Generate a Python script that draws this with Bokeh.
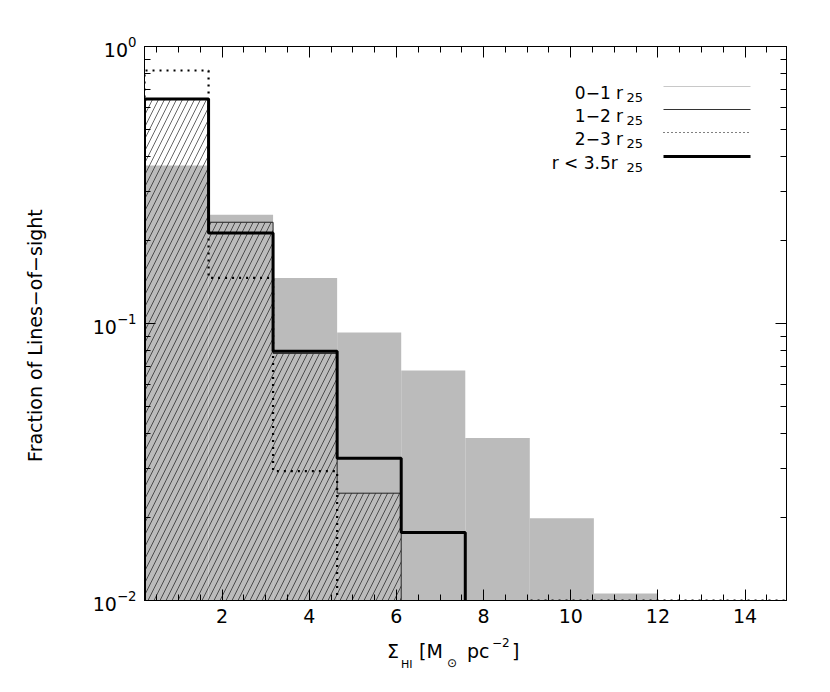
import numpy as np
from bokeh.plotting import figure
from bokeh.layouts import column
from bokeh.models import (Range1d, LinearAxis, LogAxis, SingleIntervalTicker, FixedTicker,
                          LogTickFormatter, Label, Arrow, CustomJSTickFormatter, Div)
from bokeh.embed import file_html
from bokeh.resources import INLINE

# ---- data ----
bin_edges = [0.22, 1.69, 3.17, 4.64, 6.11, 7.58, 9.06, 10.53, 12.00, 13.48, 14.95]
frac_r0_1 = [0.372, 0.247, 0.146, 0.0928, 0.0676, 0.0386, 0.0198, 0.0106, 0.0, 0.0]
frac_r1_2 = [0.645, 0.232, 0.078, 0.0244, 0.0, 0.0, 0.0, 0.0, 0.0, 0.0]
frac_r2_3 = [0.819, 0.146, 0.0293, 0.0, 0.0, 0.0, 0.0100, 0.0100, 0.0100, 0.0100]
frac_all = [0.647, 0.212, 0.0794, 0.0326, 0.0176, 0.0, 0.0, 0.0, 0.0, 0.0]

x_tick_interval = 2
y_major_ticks = [0.01, 0.1, 1.0]
y_minor_ticks = [m * d for d in (0.01, 0.1) for m in range(2, 10)]
legend_labels = ["0\u22121  r", "1\u22122  r", "2\u22123  r", "r  <  3.5r"]
y_title = "Fraction of Lines\u2212of\u2212sight"

FONT = "DejaVu Sans"
FLOOR = 1e-4

p = figure(width=830, height=636, x_range=Range1d(bin_edges[0], bin_edges[-1]),
           y_range=Range1d(0.01, 1.0), y_axis_type="log",
           output_backend="svg", toolbar_location=None,
           min_border_left=144, min_border_right=44, min_border_top=46, min_border_bottom=36)
p.grid.visible = False
p.outline_line_color = "black"
p.background_fill_color = "white"
p.border_fill_color = "white"

left = np.array(bin_edges[:-1])
right = np.array(bin_edges[1:])


def positive(vals):
    v = np.array(vals)
    m = v > 0
    return left[m], right[m], v[m]


def step_path(vals):
    xs = [bin_edges[0]]
    ys = [FLOOR]
    for i, v in enumerate(vals):
        vv = v if v > 0 else FLOOR
        xs += [bin_edges[i], bin_edges[i + 1]]
        ys += [vv, vv]
    xs.append(bin_edges[-1])
    ys.append(FLOOR)
    return xs, ys


# 0-1 r25 : grey filled histogram
l, r, t = positive(frac_r0_1)
p.quad(left=l, right=r, top=t, bottom=FLOOR, fill_color="#bbbbbb", line_color=None)

# 1-2 r25 : hatched histogram with thin outline
l, r, t = positive(frac_r1_2)
p.quad(left=l, right=r, top=t, bottom=FLOOR, fill_alpha=0, line_color=None,
       hatch_pattern="/", hatch_color="black", hatch_weight=0.6, hatch_scale=12)
xs, ys = step_path(frac_r1_2)
p.line(xs, ys, line_color="#222222", line_width=1)

# 2-3 r25 : dotted
xs, ys = step_path(frac_r2_3)
p.line(xs, ys, line_color="black", line_width=2.2, line_dash="2 5")

# all : thick
xs, ys = step_path(frac_all)
p.line(xs, ys, line_color="black", line_width=3)

# ---- axes ----
blank = CustomJSTickFormatter(code="return ''")
bottom_axis = p.below[0]
left_axis = p.left[0]
bottom_axis.ticker = SingleIntervalTicker(interval=x_tick_interval, num_minor_ticks=4)
left_axis.ticker = FixedTicker(ticks=y_major_ticks, minor_ticks=y_minor_ticks)
left_axis.formatter = LogTickFormatter()
top_axis = LinearAxis(ticker=SingleIntervalTicker(interval=x_tick_interval, num_minor_ticks=4),
                      formatter=blank)
right_axis = LogAxis(ticker=FixedTicker(ticks=y_major_ticks, minor_ticks=y_minor_ticks),
                     formatter=blank)
p.add_layout(top_axis, "above")
p.add_layout(right_axis, "right")

for ax in [bottom_axis, left_axis, top_axis, right_axis]:
    ax.major_tick_in = 11
    ax.major_tick_out = 0
    ax.minor_tick_in = 6
    ax.minor_tick_out = 0
    ax.axis_line_color = "black"
    ax.major_tick_line_color = "black"
    ax.minor_tick_line_color = "black"
    ax.major_label_text_font = FONT
    ax.major_label_text_font_style = "normal"
    ax.major_label_text_color = "black"
for ax in [top_axis, right_axis]:
    ax.major_label_text_font_size = "0px"
    ax.major_label_standoff = 0

bottom_axis.major_label_text_font_size = "19px"
bottom_axis.major_label_standoff = 8
left_axis.major_label_text_font_size = "19px"
left_axis.major_label_standoff = 8
left_axis.axis_label = y_title + "\u00a0" * 4
left_axis.axis_label_text_font = FONT
left_axis.axis_label_text_font_size = "19px"
left_axis.axis_label_text_font_style = "normal"
left_axis.axis_label_text_color = "black"
left_axis.axis_label_standoff = 44


# ---- legend ----
def lab(x, y, text, size, align="left"):
    p.add_layout(Label(x=x, y=y, x_units="screen", y_units="screen", text=text,
                       text_font=FONT, text_font_size=size, text_align=align,
                       text_baseline="alphabetic", text_color="black"))


row_y = [514, 491, 468, 444]
styles = [dict(line_color="#c8c8c8", line_width=1),
          dict(line_color="#333333", line_width=1),
          dict(line_color="black", line_width=1, line_dash="1 3"),
          dict(line_color="black", line_width=3)]
for txt, yy, st in zip(legend_labels, row_y, styles):
    lab(484, yy - 6, txt, "17px", align="right")
    lab(482, yy - 11, "25", "13px")
    p.add_layout(Arrow(end=None, x_start=519, y_start=yy, x_end=606, y_end=yy,
                       start_units="screen", end_units="screen", **st))


# ---- x title (HTML text under the plot) ----
def piece(left_px, top_px, text, size):
    return (f'<span style="position:absolute; left:{left_px}px; top:{top_px}px; '
            f'font-family:\'{FONT}\'; font-size:{size}px; line-height:1; white-space:pre; '
            f'color:black;">{text}</span>')


x_title_html = ('<div style="position:relative; width:830px; height:50px;">'
                + piece(387, 5.9, "\u03a3", 19)
                + piece(401, 22.7, "HI", 11)
                + piece(419, 5.9, "[M", 19)
                + piece(447, 20.8, "\u2299", 12)
                + piece(467, 5.9, "pc", 19)
                + piece(492, 0.8, "\u22122", 12)
                + piece(512, 5.9, "]", 19)
                + '</div>')
x_title = Div(text=x_title_html, width=830, height=50, margin=0)

layout = column(p, x_title, spacing=0, margin=0)
open("out.html", "w").write(file_html(layout, INLINE))
